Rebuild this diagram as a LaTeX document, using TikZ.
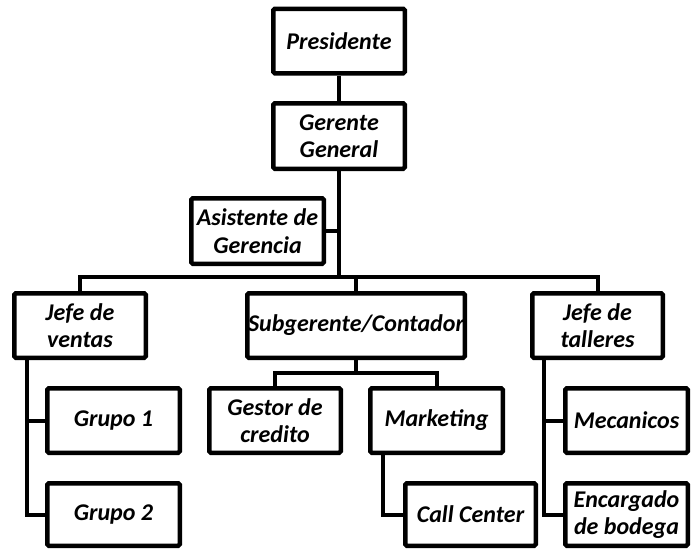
\documentclass[tikz,border=0pt]{standalone}
\usepackage{fontspec}
\setmainfont{Carlito}
\tikzset{
    org-box/.style = {draw=black, fill=white, line width=4.5pt, rectangle, rounded corners=1.5pt, minimum width=131.5pt, minimum height=64.5pt, inner sep=0pt, align=center, font=\fontsize{24}{27.5}\selectfont\bfseries\itshape},
    org-line/.style = {draw=black, line width=4pt},
}

\begin{document}
\begin{tikzpicture}[x=1pt, y=-1pt]
\useasboundingbox (0,0) rectangle (691,550);
\node[org-box] (pres) at (339,41) {Presidente};
\node[org-box, minimum height=65.5pt] (gg) at (339,136) {Gerente\\General};
\node[org-box, minimum height=65.5pt, minimum width=132.5pt] (asist) at (257.5,231) {Asistente de\\Gerencia};
\node[org-box] (jv) at (80,325.5) {Jefe de\\ventas};
\node[org-box, minimum width=217.5pt] (sub) at (356,325.5) {Subgerente/Contador};
\node[org-box, minimum width=130.5pt] (jt) at (597.5,325.5) {Jefe de\\talleres};
\node[org-box, minimum width=132.5pt] (g1) at (113.5,420.5) {Grupo 1};
\node[org-box, minimum width=132.5pt, minimum height=62.5pt] (g2) at (113.5,514.5) {Grupo 2};
\node[org-box] (gestor) at (275,420.5) {Gestor de\\credito};
\node[org-box, minimum width=132.5pt] (mkt) at (436.5,420.5) {Marketing};
\node[org-box, minimum width=130.5pt, minimum height=62.5pt] (cc) at (470.5,514.5) {Call Center};
\node[org-box, minimum width=122.5pt] (mec) at (626.5,420.5) {Mecanicos};
\node[org-box, minimum width=122.5pt, minimum height=62.5pt] (enc) at (626.5,514.5) {Encargado\\de bodega};

\coordinate (bar) at (339,277);
\coordinate (subbar) at (356,373);
\coordinate (jvleg) at (27,360);
\coordinate (mkleg) at (383,455);
\coordinate (jtleg) at (544,360);

\draw[org-line] (pres) -- (gg);
\draw[org-line] (gg.south) -- (bar);
\draw[org-line] (asist.east) -- (asist.east -| bar);
\draw[org-line] (jv.north) |- (bar) -| (jt.north);
\draw[org-line] (sub.north) -- (sub.north |- bar);
\draw[org-line] (sub.south) -- (subbar);
\draw[org-line] (gestor.north) |- (subbar) -| (mkt.north);
\draw[org-line] (jvleg) |- (g1.west);
\draw[org-line] (jvleg) |- (g2.west);
\draw[org-line] (mkleg) |- (cc.west);
\draw[org-line] (jtleg) |- (mec.west);
\draw[org-line] (jtleg) |- (enc.west);
\end{tikzpicture}
\end{document}
